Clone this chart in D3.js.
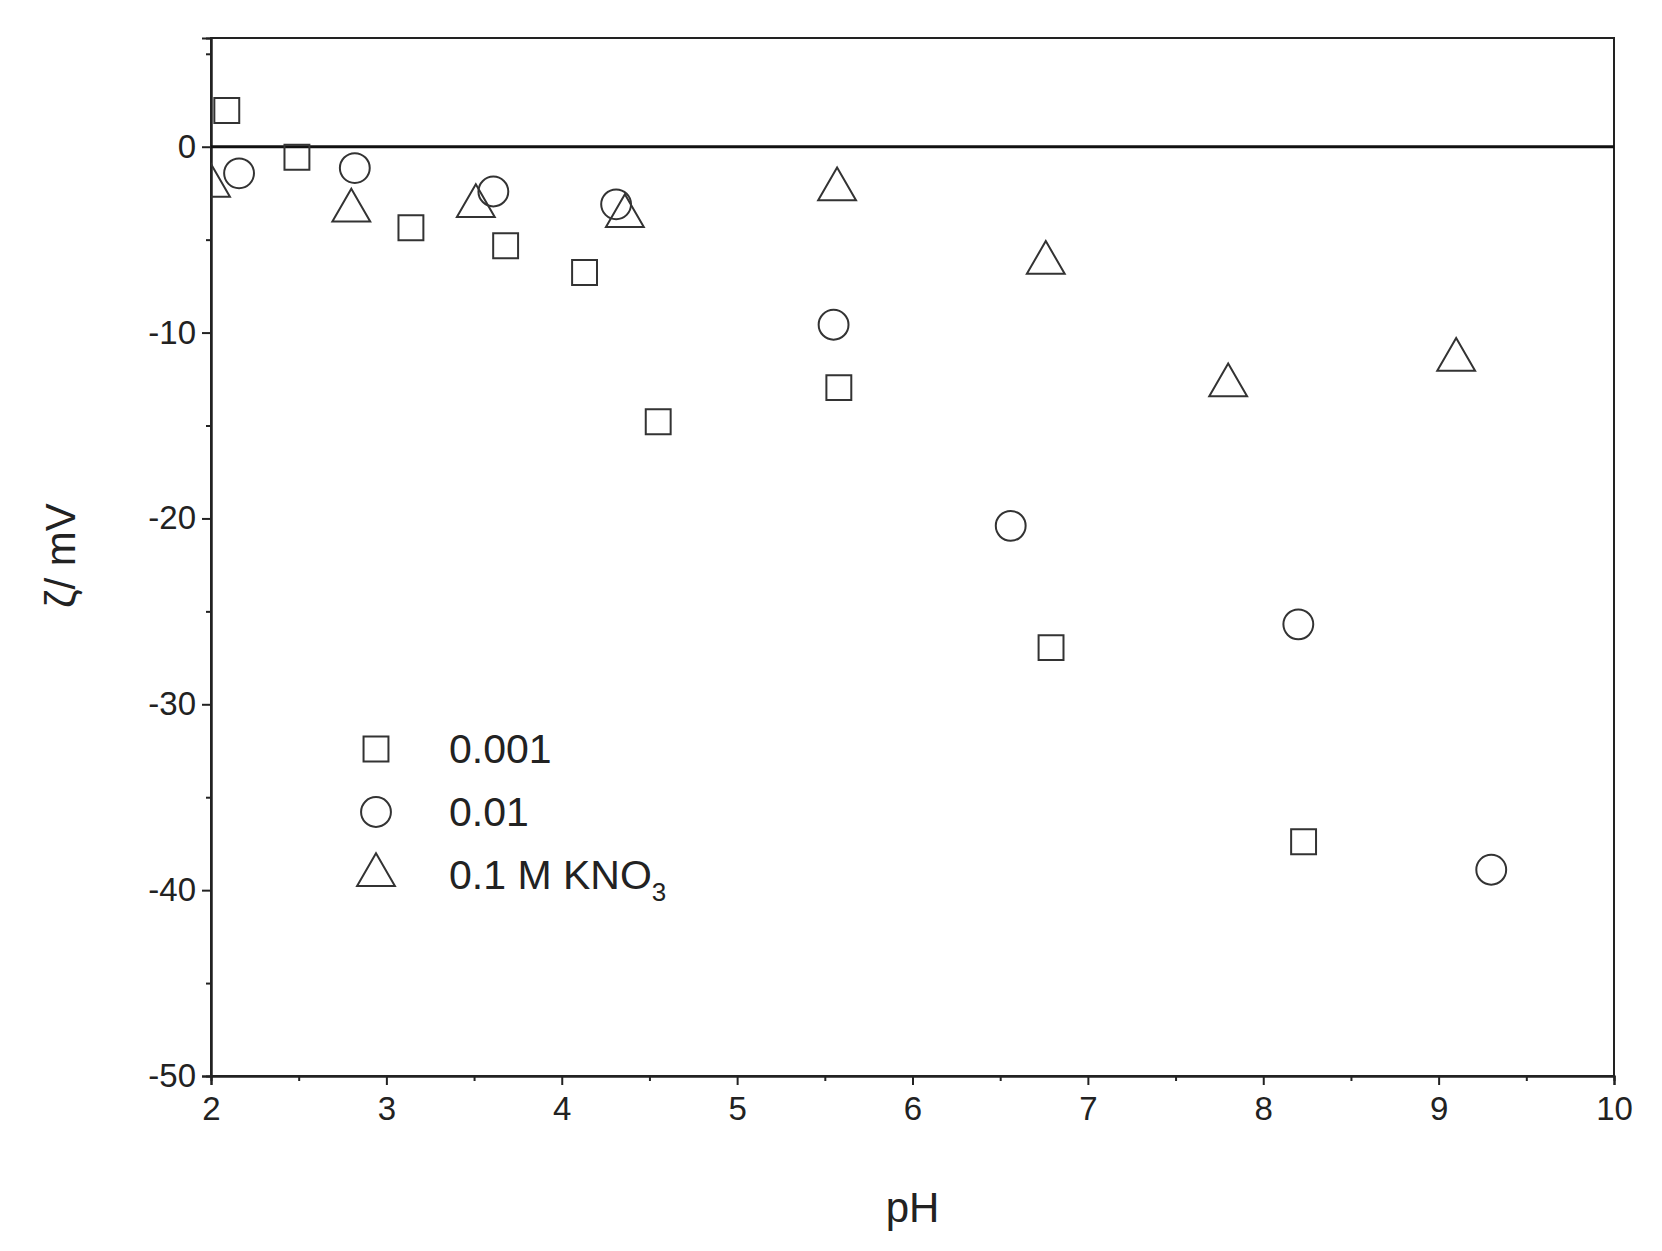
<!DOCTYPE html>
<html><head><meta charset="utf-8">
<script src="https://cdn.jsdelivr.net/npm/d3@7"></script>
<style>body{margin:0;background:#fff}text{font-family:Arial,"Liberation Sans",sans-serif;fill:#222}</style>
</head><body>
<svg id="chart" width="1662" height="1251"></svg>
<script>
// pH / zeta potential (mV) for three KNO3 concentrations
var phSquare = [2.09, 2.49, 3.14, 3.68, 4.13, 4.55, 5.58, 6.79, 8.23];
var zetaSquare = [1.95, -0.57, -4.36, -5.33, -6.77, -14.8, -12.96, -26.95, -37.4];
var phCircle = [2.16, 2.82, 3.61, 4.31, 5.55, 6.56, 8.2, 9.3];
var zetaCircle = [-1.43, -1.15, -2.41, -3.1, -9.58, -20.4, -25.7, -38.9];
var phTriangle = [2.0, 2.8, 3.51, 4.36, 5.57, 6.76, 7.8, 9.1];
var zetaTriangle = [-2.1, -3.44, -3.2, -3.73, -2.29, -6.25, -12.84, -11.47];
var legendLabels = ["0.001", "0.01", "0.1 M KNO"];

var svg = d3.select("#chart");
var L = 211, R = 1614, T = 38, B = 1076;
var x = d3.scaleLinear().domain([2, 10]).range([L, R]);
var y = d3.scaleLinear().domain([-50, 5.85]).range([B, T]);

svg.append("clipPath").attr("id", "clip").append("rect")
  .attr("x", L).attr("y", T).attr("width", R - L).attr("height", B - T);

// frame
svg.append("rect").attr("x", L).attr("y", T).attr("width", R - L).attr("height", B - T)
  .attr("fill", "none").attr("stroke", "#222").attr("stroke-width", 2);

// axes
svg.append("g").attr("transform", "translate(0," + B + ")")
  .call(d3.axisBottom(x).tickValues(d3.range(2, 10.01, 1)).tickSize(9).tickPadding(12).tickFormat(d => String(d)));
svg.append("g").attr("transform", "translate(0," + B + ")")
  .call(d3.axisBottom(x).tickValues(d3.range(2.5, 10, 1)).tickSize(5).tickFormat(""));
svg.append("g").attr("transform", "translate(" + L + ",0)")
  .call(d3.axisLeft(y).tickValues(d3.range(-50, 1, 10)).tickSize(9).tickPadding(6).tickFormat(d => String(d)));
svg.append("g").attr("transform", "translate(" + L + ",0)")
  .call(d3.axisLeft(y).tickValues(d3.range(-45, 6, 10)).tickSize(5).tickFormat(""));
svg.selectAll(".domain").attr("stroke", "#222").attr("stroke-width", 2);
svg.selectAll(".tick line").attr("stroke", "#222").attr("stroke-width", 2);
svg.selectAll(".tick text").style("font-size", "33px").attr("fill", "#222");

// zero line
svg.append("line").attr("x1", L).attr("x2", R).attr("y1", y(0)).attr("y2", y(0))
  .attr("stroke", "#111").attr("stroke-width", 3);

var g = svg.append("g").attr("clip-path", "url(#clip)")
  .attr("fill", "none").attr("stroke", "#333").attr("stroke-width", 2);
var sq = d3.symbol(d3.symbolSquare, 620)();
var ci = d3.symbol(d3.symbolCircle, 700)();
var tr = d3.symbol(d3.symbolTriangle, 620)();

g.selectAll(".sq").data(phSquare).join("path").attr("d", sq)
  .attr("transform", (d, i) => "translate(" + x(d) + "," + y(zetaSquare[i]) + ")");
g.selectAll(".ci").data(phCircle).join("path").attr("d", ci)
  .attr("transform", (d, i) => "translate(" + x(d) + "," + y(zetaCircle[i]) + ")");
g.selectAll(".tr").data(phTriangle).join("path").attr("d", tr)
  .attr("transform", (d, i) => "translate(" + x(d) + "," + y(zetaTriangle[i]) + ")");

// legend
var legend = svg.append("g");
var shapes = [sq, ci, tr];
legendLabels.forEach(function (lab, i) {
  var ly = 749 + i * 63;
  legend.append("path").attr("d", shapes[i]).attr("transform", "translate(376," + ly + ")")
    .attr("fill", "none").attr("stroke", "#333").attr("stroke-width", 2);
  var t = legend.append("text").attr("x", 449).attr("y", ly + 14).style("font-size", "41px").text(lab);
  if (i == 2) t.append("tspan").attr("dy", 12).style("font-size", "26px").text("3");
});

// axis titles
svg.append("text").attr("x", (L + R) / 2).attr("y", 1222).attr("text-anchor", "middle")
  .style("font-size", "42px").text("pH");
svg.append("text").attr("transform", "translate(75," + y(-22) + ") rotate(-90)")
  .attr("text-anchor", "middle").style("font-size", "42px").text("ζ/ mV");
</script>
</body></html>
